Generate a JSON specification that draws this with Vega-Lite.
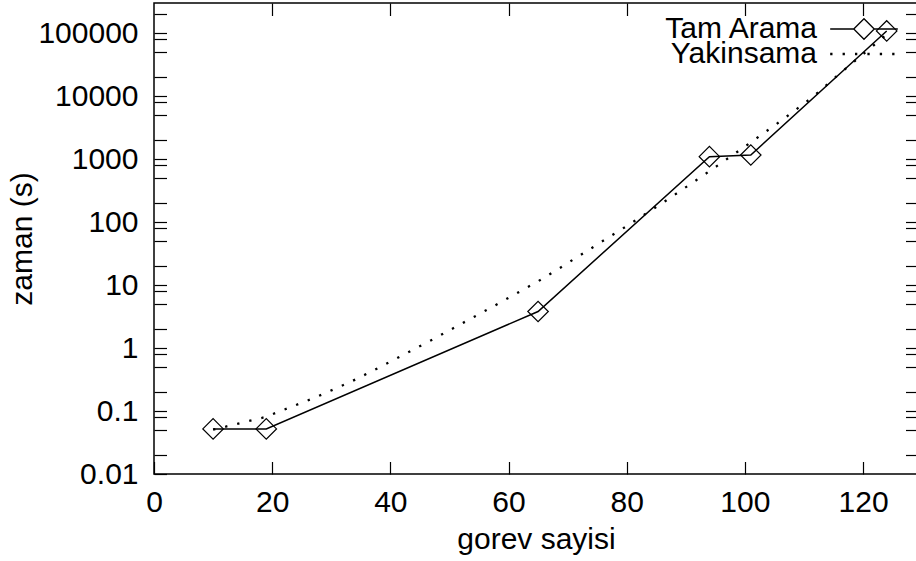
{
  "$schema": "https://vega.github.io/schema/vega-lite/v6.json",
  "width": 764,
  "height": 471,
  "autosize": "none",
  "padding": {"left": 154, "top": 3, "right": 0, "bottom": 87},
  "background": "white",
  "config": {
    "font": "Liberation Sans",
    "view": {"stroke": "black", "strokeWidth": 1.5},
    "axis": {"grid": false, "domain": false, "tickColor": "black", "tickWidth": 1.2, "labelColor": "black", "titleColor": "black", "labelFontSize": 30, "titleFontSize": 30, "titleFontWeight": "normal", "labelFlush": false, "labelOverlap": false},
    "legend": {"title": null, "orient": "none", "padding": 0, "labelFontSize": 30, "labelColor": "black", "labelAlign": "right", "labelOffset": -62, "symbolSize": 420, "symbolOpacity": 1}
  },
  "data": {
    "values": [
      {"n": 10, "t": 0.052, "s": "Tam Arama"},
      {"n": 19, "t": 0.052, "s": "Tam Arama"},
      {"n": 65, "t": 3.8, "s": "Tam Arama"},
      {"n": 94, "t": 1090, "s": "Tam Arama"},
      {"n": 101, "t": 1160, "s": "Tam Arama"},
      {"n": 124, "t": 108000, "s": "Tam Arama"},
      {"n": 10, "t": 0.0505, "s": "Yakinsama"},
      {"n": 18.8, "t": 0.08, "s": "Yakinsama"},
      {"n": 27.1, "t": 0.161, "s": "Yakinsama"},
      {"n": 33.3, "t": 0.291, "s": "Yakinsama"},
      {"n": 37.4, "t": 0.452, "s": "Yakinsama"},
      {"n": 47.3, "t": 1.39, "s": "Yakinsama"},
      {"n": 57.2, "t": 4.46, "s": "Yakinsama"},
      {"n": 65.1, "t": 11.6, "s": "Yakinsama"},
      {"n": 68.9, "t": 19.2, "s": "Yakinsama"},
      {"n": 80.3, "t": 90, "s": "Yakinsama"},
      {"n": 86, "t": 199, "s": "Yakinsama"},
      {"n": 91.6, "t": 450, "s": "Yakinsama"},
      {"n": 95.3, "t": 778, "s": "Yakinsama"},
      {"n": 100.8, "t": 1780, "s": "Yakinsama"},
      {"n": 106.3, "t": 4170, "s": "Yakinsama"},
      {"n": 111.7, "t": 10000, "s": "Yakinsama"},
      {"n": 115.1, "t": 19100, "s": "Yakinsama"},
      {"n": 118.6, "t": 36000, "s": "Yakinsama"},
      {"n": 124, "t": 95000, "s": "Yakinsama"}
    ]
  },
  "layer": [
    {
      "transform": [{"filter": "datum.s === 'Tam Arama'"}],
      "mark": {"type": "line", "strokeWidth": 1.5, "strokeCap": "butt"},
      "encoding": {
        "x": {
          "field": "n", "type": "quantitative",
          "scale": {"domain": [0, 129.3], "nice": false, "zero": false},
          "axis": {"orient": "bottom", "values": [0, 20, 40, 60, 80, 100, 120], "tickSize": -12.5, "labelPadding": 25.5, "title": "gorev sayisi", "titlePadding": 7}
        },
        "y": {
          "field": "t", "type": "quantitative",
          "scale": {"type": "log", "domain": [0.01, 300000], "nice": false},
          "axis": {"orient": "left", "values": [0.01, 0.02, 0.05, 0.08, 0.1, 0.2, 0.5, 0.8, 1, 2, 5, 8, 10, 20, 50, 80, 100, 200, 500, 800, 1000, 2000, 5000, 8000, 10000, 20000, 50000, 80000, 100000, 200000],
            "format": "~g", "labelExpr": "abs(log(datum.value)/LN10 - round(log(datum.value)/LN10)) < 0.001 ? datum.label : ''",
            "tickSize": -12.5, "labelPadding": 28.5, "title": "zaman (s)", "titlePadding": 0,
            "encode": {"ticks": {"update": {"x2": {"signal": "abs(log(datum.value)/LN10 - round(log(datum.value)/LN10)) < 0.001 ? 12.5 : 6.5"}}}}}
        },
        "stroke": {
          "field": "s", "type": "nominal",
          "scale": {"domain": ["Tam Arama"], "range": ["black"]},
          "legend": {"legendX": 695, "legendY": 11, "symbolType": "M-3.3,0L-1,0M1,0L3.3,0M-1,0L0,-1L1,0L0,1Z", "symbolStrokeWidth": 1.3, "symbolFillColor": "transparent", "symbolStrokeColor": "black"}
        }
      }
    },
    {
      "transform": [{"filter": "datum.s === 'Yakinsama'"}],
      "mark": {"type": "line", "color": "black", "strokeWidth": 2.3, "strokeCap": "butt"},
      "encoding": {
        "x": {"field": "n", "type": "quantitative", "scale": {"domain": [0, 129.3], "nice": false, "zero": false}, "axis": null},
        "y": {"field": "t", "type": "quantitative", "scale": {"type": "log", "domain": [0.01, 300000], "nice": false}, "axis": null},
        "strokeDash": {
          "field": "s", "type": "nominal",
          "scale": {"domain": ["Yakinsama"], "range": [[2.3, 10.1]]},
          "legend": {"legendX": 695, "legendY": 36, "symbolType": "M-3.3,0L3.3,0", "symbolStrokeWidth": 2.3, "symbolFillColor": "transparent", "symbolStrokeColor": "black"}
        }
      }
    },
    {
      "transform": [{"filter": "datum.s === 'Tam Arama'"}],
      "mark": {"type": "point", "shape": "diamond", "size": 420, "filled": false, "stroke": "black", "strokeWidth": 1.2, "opacity": 1},
      "encoding": {
        "x": {
          "field": "n", "type": "quantitative",
          "scale": {"domain": [0, 129.3], "nice": false, "zero": false},
          "axis": {"orient": "top", "values": [20, 40, 60, 80, 100, 120], "labels": false, "title": null, "tickSize": -12.5}
        },
        "y": {
          "field": "t", "type": "quantitative",
          "scale": {"type": "log", "domain": [0.01, 300000], "nice": false},
          "axis": {"orient": "right", "values": [0.02, 0.05, 0.08, 0.1, 0.2, 0.5, 0.8, 1, 2, 5, 8, 10, 20, 50, 80, 100, 200, 500, 800, 1000, 2000, 5000, 8000, 10000, 20000, 50000, 80000, 100000, 200000],
            "labels": false, "title": null, "tickSize": -12.5,
            "encode": {"ticks": {"update": {"x2": {"signal": "abs(log(datum.value)/LN10 - round(log(datum.value)/LN10)) < 0.001 ? -12.5 : -6.5"}}}}}
        }
      }
    }
  ],
  "resolve": {"axis": {"x": "independent", "y": "independent"}}
}
